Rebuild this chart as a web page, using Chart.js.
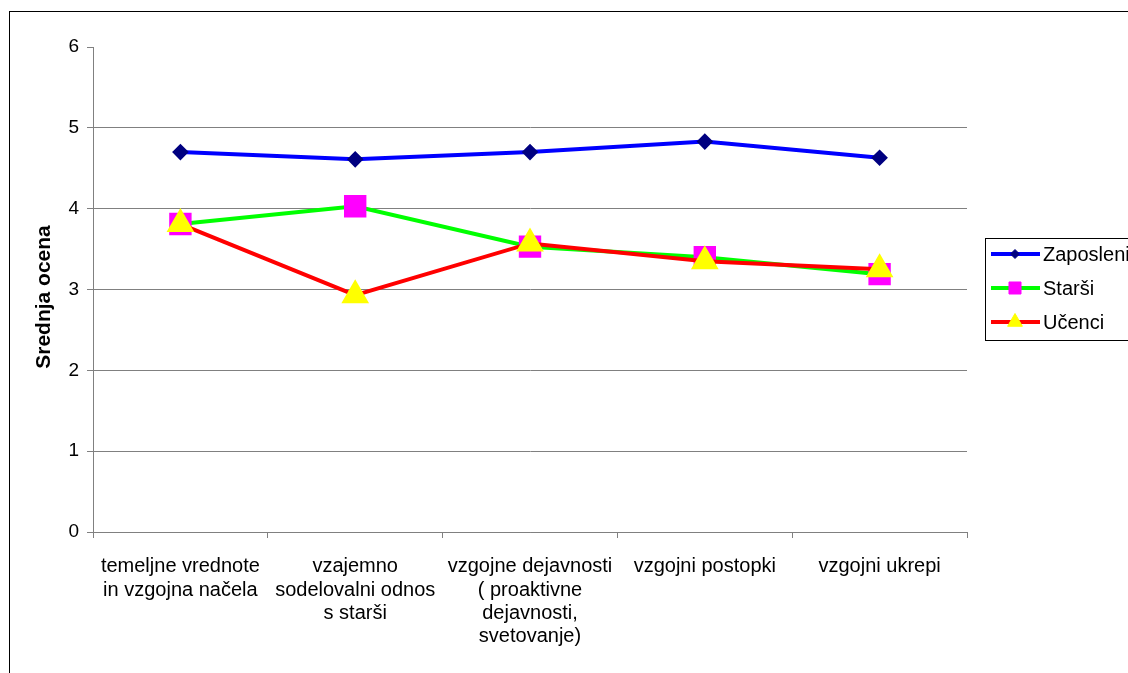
<!DOCTYPE html>
<html>
<head>
<meta charset="utf-8">
<script src="https://cdn.jsdelivr.net/npm/chart.js@4/dist/chart.umd.min.js"></script>
<style>
  body { margin: 0; background: #fff; }
</style>
</head>
<body>
<canvas id="lineChart" width="1128" height="673"></canvas>
<script>
/* Data */
const categories = [
    ["temeljne vrednote", "in vzgojna načela"],
    ["vzajemno", "sodelovalni odnos", "s starši"],
    ["vzgojne dejavnosti", "( proaktivne", "dejavnosti,", "svetovanje)"],
    "vzgojni postopki",
    "vzgojni ukrepi"
];
const zaposleni = [4.70, 4.61, 4.70, 4.83, 4.63];
const starsi = [3.81, 4.03, 3.53, 3.40, 3.19];
const ucenci = [3.81, 2.93, 3.57, 3.35, 3.25];
const y_ticks = [0, 1, 2, 3, 4, 5, 6];
const y_title = "Srednja ocena";

const FONT = '"Liberation Sans", Arial, sans-serif';
Chart.defaults.font.family = FONT;
Chart.defaults.color = '#000';

// outer frame, y title and legend box drawn by hand (Excel style)
const frame_plugin = {
    id: 'frame',
    beforeDraw(chart) {
        const ctx = chart.ctx;
        ctx.save();
        ctx.fillStyle = '#fff';
        ctx.fillRect(0, 0, chart.width, chart.height);
        ctx.strokeStyle = '#000';
        ctx.lineWidth = 1;
        ctx.strokeRect(9.5, 11.5, 1300, 800);
        // axis title
        ctx.translate(44, 297);
        ctx.rotate(-Math.PI / 2);
        ctx.fillStyle = '#000';
        ctx.font = 'bold 21px ' + FONT;
        ctx.textAlign = 'center';
        ctx.textBaseline = 'middle';
        ctx.fillText(y_title, 0, 0);
        ctx.restore();
    },
    afterDraw(chart) {
        const ctx = chart.ctx;
        ctx.save();
        ctx.fillStyle = '#fff';
        ctx.fillRect(985.5, 238.5, 300, 102);
        ctx.strokeStyle = '#000';
        ctx.lineWidth = 1;
        ctx.strokeRect(985.5, 238.5, 300, 102);
        const sizes = [4.5, 8.5, 8.5];
        chart.data.datasets.forEach((ds, i) => {
            const y = 254 + i * 34;
            ctx.strokeStyle = ds.borderColor;
            ctx.lineWidth = 4;
            ctx.beginPath();
            ctx.moveTo(991, y);
            ctx.lineTo(1040, y);
            ctx.stroke();
            ctx.fillStyle = ds.pointBackgroundColor;
            ctx.strokeStyle = ds.pointBorderColor;
            ctx.lineWidth = 1;
            Chart.helpers.drawPoint(ctx, {pointStyle: ds.pointStyle, radius: sizes[i], borderWidth: 1}, 1015, y);
            ctx.fillStyle = '#000';
            ctx.font = '20px ' + FONT;
            ctx.textBaseline = 'middle';
            ctx.fillText(ds.label, 1043, y + 1);
        });
        ctx.restore();
    }
};

/* Create chart */
const my_chart = new Chart('lineChart', {
    type: 'line',
    data: {
        labels: categories,
        datasets: [
            {
                label: "Zaposleni",
                data: zaposleni,
                borderColor: '#0000ff',
                borderWidth: 4,
                pointStyle: 'rectRot',
                pointRadius: 5.5,
                pointBackgroundColor: '#000080',
                pointBorderColor: '#000080',
                order: 3,
            },
            {
                label: "Starši",
                data: starsi,
                borderColor: '#00ff00',
                borderWidth: 4,
                pointStyle: 'rect',
                pointRadius: 13,
                pointBackgroundColor: '#ff00ff',
                pointBorderColor: '#ff00ff',
                order: 2,
            },
            {
                label: "Učenci",
                data: ucenci,
                borderColor: '#ff0000',
                borderWidth: 4,
                pointStyle: 'triangle',
                pointRadius: 12,
                pointBackgroundColor: '#ffff00',
                pointBorderColor: '#ffff00',
                order: 1,
            },
        ]
    },
    options: {
        responsive: false,
        animation: false,
        layout: {
            padding: {left: 0, top: 47, right: 161, bottom: 0}
        },
        scales: {
            x: {
                offset: true,
                grid: {
                    offset: true,
                    drawOnChartArea: false,
                    color: '#808080',
                    tickLength: 6,
                },
                border: { color: '#808080' },
                ticks: {
                    maxRotation: 0,
                    autoSkip: false,
                    padding: 17,
                    font: { size: 20, lineHeight: 1.17 },
                },
                afterFit(scale) { scale.height = 141; }
            },
            y: {
                min: 0,
                max: 6,
                afterBuildTicks(scale) { scale.ticks = y_ticks.map(v => ({value: v})); },
                grid: {
                    color: (c) => c.tick && c.tick.value === 6 ? 'rgba(0,0,0,0)' : '#808080',
                    tickColor: '#808080',
                    tickLength: 6,
                },
                border: { color: '#808080' },
                ticks: {
                    padding: 8,
                    font: { size: 19 },
                },
                afterFit(scale) { scale.width = 93; }
            }
        },
        plugins: {
            legend: { display: false },
            tooltip: { enabled: false },
        }
    },
    plugins: [frame_plugin]
});
</script>
</body>
</html>
